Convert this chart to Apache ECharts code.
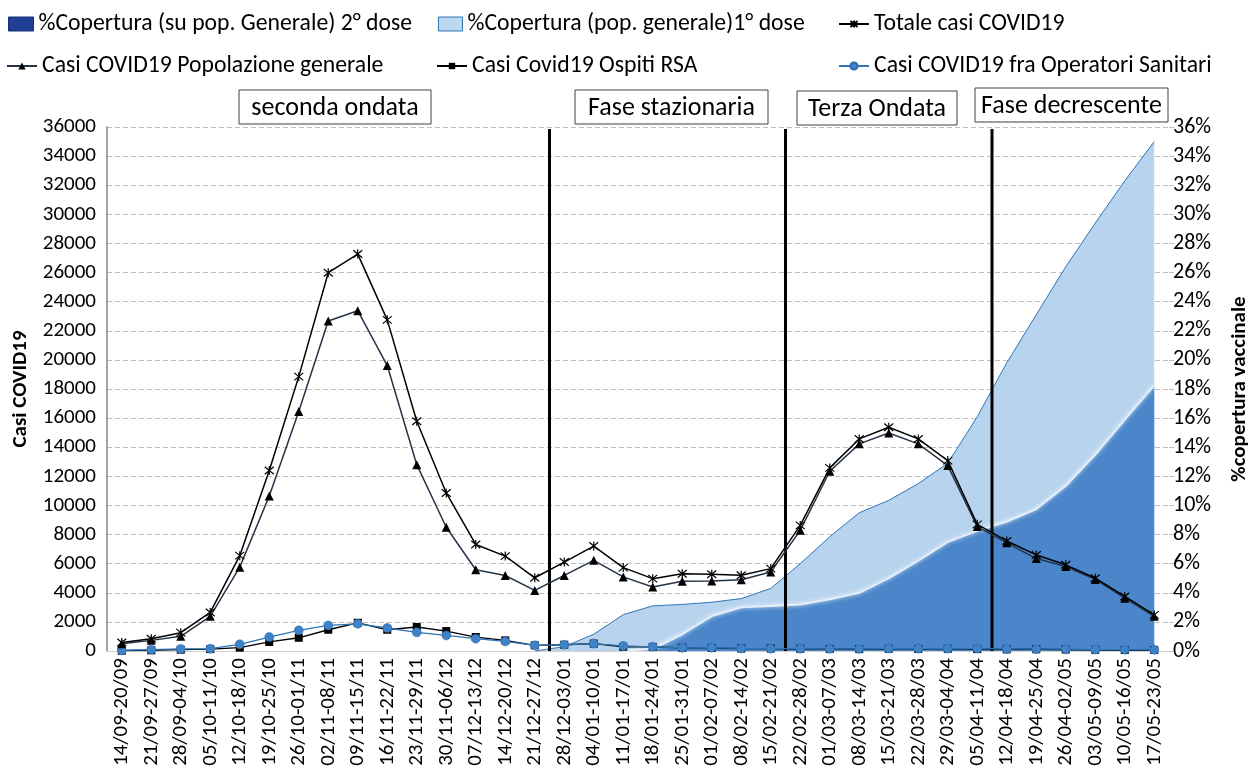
<!DOCTYPE html>
<html>
<head>
<meta charset="utf-8">
<script src="https://cdn.jsdelivr.net/npm/echarts@6.0.0/dist/echarts.min.js"></script>
<style>
  html, body { margin: 0; padding: 0; background: #fff; }
  #chart { width: 1258px; height: 770px; }
</style>
</head>
<body>
<div id="chart"></div>
<script>
// Weekly periods (Sep 2020 - May 2021)
const weeks = ['14/09-20/09','21/09-27/09','28/09-04/10','05/10-11/10','12/10-18/10','19/10-25/10',
  '26/10-01/11','02/11-08/11','09/11-15/11','16/11-22/11','23/11-29/11','30/11-06/12','07/12-13/12',
  '14/12-20/12','21/12-27/12','28/12-03/01','04/01-10/01','11/01-17/01','18/01-24/01','25/01-31/01',
  '01/02-07/02','08/02-14/02','15/02-21/02','22/02-28/02','01/03-07/03','08/03-14/03','15/03-21/03',
  '22/03-28/03','29/03-04/04','05/04-11/04','12/04-18/04','19/04-25/04','26/04-02/05','03/05-09/05',
  '10/05-16/05','17/05-23/05'];

// Weekly COVID19 cases
const totaleCasi = [580, 840, 1260, 2650, 6550, 12400, 18850, 25990, 27270, 22750, 15780, 10860, 7320,
  6520, 5030, 6110, 7210, 5730, 4970, 5310, 5270, 5200, 5660, 8630, 12580, 14570, 15370, 14570, 13080,
  8700, 7560, 6600, 5920, 5000, 3750, 2480];
const popolazioneGenerale = [500, 730, 1010, 2380, 5760, 10650, 16460, 22670, 23380, 19610, 12800, 8500,
  5580, 5190, 4160, 5190, 6230, 5090, 4400, 4790, 4810, 4900, 5430, 8290, 12350, 14230, 14980, 14230,
  12740, 8550, 7430, 6350, 5800, 4920, 3630, 2380];
const ospitiRSA = [20, 50, 90, 130, 230, 620, 910, 1460, 1940, 1460, 1650, 1370, 960, 730, 390, 430, 510,
  290, 280, 220, 210, 170, 170, 150, 140, 130, 150, 140, 150, 130, 110, 120, 100, 80, 70, 70];
const operatoriSanitari = [50, 90, 140, 160, 460, 960, 1420, 1760, 1870, 1580, 1280, 1070, 850, 660, 390,
  430, 510, 350, 290, 220, 230, 180, 160, 160, 150, 150, 170, 160, 170, 170, 140, 130, 130, 100, 90, 80];

// Vaccination coverage (%), general population
const copertura1Dose = [null, null, null, null, null, null, null, null, null, null, null, null, null, null,
  0, 0.3, 1.15, 2.5, 3.1, 3.2, 3.35, 3.6, 4.3, 6.0, 7.85, 9.5, 10.35, 11.5, 12.9, 16.1, 19.8, 23.1, 26.4,
  29.4, 32.3, 35.0];
const copertura2Dose = [null, null, null, null, null, null, null, null, null, null, null, null, null, null,
  null, null, null, 0, 0.15, 1.15, 2.4, 3.0, 3.1, 3.2, 3.55, 4.0, 5.0, 6.2, 7.5, 8.25, 8.9, 9.75, 11.35,
  13.5, 15.9, 18.25];

// Phase boundaries: a separator is drawn after each of these week indices
const phaseBreaks = [14, 22, 29];
const phaseLabels = ['seconda ondata', 'Fase stazionaria', 'Terza Ondata', 'Fase decrescente'];

const leftTicks = { min: 0, max: 36000, interval: 2000 };
const rightTicks = { min: 0, max: 36, interval: 2 };

const FONT = 'Carlito, Lato, "Open Sans", sans-serif';
const chart = echarts.init(document.getElementById('chart'), null, { renderer: 'canvas' });

const N1 = '%Copertura (su pop. Generale) 2° dose';
const N2 = '%Copertura (pop. generale)1° dose';
const N3 = 'Totale casi COVID19';
const N4 = 'Casi COVID19 Popolazione generale';
const N5 = 'Casi Covid19 Ospiti RSA';
const N6 = 'Casi COVID19 fra Operatori Sanitari';

const legendText = { color: '#000', fontSize: 23.7, fontFamily: FONT };
function legendAt(name, left, top, w, h, extra) {
  return Object.assign({
    data: [name], left: left, top: top, itemWidth: w, itemHeight: h, itemGap: 0,
    textStyle: legendText, padding: 0, selectedMode: false
  }, extra || {});
}

// Annotation boxes above the phases
const boxes = [
  { text: phaseLabels[0], x: 239, y: 90, w: 192, h: 34 },
  { text: phaseLabels[1], x: 575, y: 90, w: 193, h: 34 },
  { text: phaseLabels[2], x: 797, y: 91, w: 160, h: 34 },
  { text: phaseLabels[3], x: 975, y: 88, w: 193, h: 34 }
];
const graphics = boxes.map(b => ({
  type: 'group', x: b.x, y: b.y, z: 100,
  children: [
    { type: 'rect', shape: { x: 0, y: 0, width: b.w, height: b.h },
      style: { fill: '#fff', stroke: '#404040', lineWidth: 1 } },
    { type: 'text', x: b.w / 2, y: b.h / 2 + 1,
      style: { text: b.text, fill: '#000', font: '26px ' + FONT, align: 'center', verticalAlign: 'middle' } }
  ]
}));

const option = {
  animation: false,
  backgroundColor: '#fff',
  textStyle: { fontFamily: FONT },
  legend: [
    legendAt(N1, 8, 12, 25, 14, { icon: 'rect',
      data: [{ name: N1, itemStyle: { color: '#1f3f95', borderColor: '#16306f', borderWidth: 1 } }] }),
    legendAt(N2, 438, 12, 24, 14, { icon: 'rect',
      data: [{ name: N2, itemStyle: { color: '#bdd7ee', borderColor: '#2e75b6', borderWidth: 1 } }] }),
    legendAt(N3, 838, 12, 30, 9),
    legendAt(N4, 6, 54, 30, 9),
    legendAt(N5, 436, 54, 30, 8),
    legendAt(N6, 838, 54, 30, 9)
  ],
  grid: { left: 107, right: 79, top: 127, bottom: 119, containLabel: false },
  xAxis: {
    type: 'category',
    data: weeks,
    boundaryGap: true,
    axisLine: { show: true, lineStyle: { color: '#d0d0d0', width: 1 } },
    axisTick: { show: false },
    axisLabel: { rotate: 90, interval: 0, color: '#000', fontSize: 21, fontFamily: FONT, margin: 7 },
    splitLine: { show: false }
  },
  yAxis: [
    {
      type: 'value', min: leftTicks.min, max: leftTicks.max, interval: leftTicks.interval,
      name: 'Casi COVID19', nameLocation: 'middle', nameGap: 76,
      nameTextStyle: { color: '#000', fontSize: 21, fontWeight: 'bold', fontFamily: FONT },
      axisLine: { show: true, lineStyle: { color: '#868686', width: 1.5 } },
      axisTick: { show: false },
      axisLabel: { color: '#000', fontSize: 21, fontFamily: FONT, margin: 11,
        formatter: v => String(v) },
      splitLine: { show: true, lineStyle: { color: '#bfbfbf', type: [5, 3], width: 1 } }
    },
    {
      type: 'value', min: rightTicks.min, max: rightTicks.max, interval: rightTicks.interval,
      name: '%copertura vaccinale', nameLocation: 'middle', nameGap: 60,
      nameTextStyle: { color: '#000', fontSize: 21, fontWeight: 'bold', fontFamily: FONT },
      axisLine: { show: false },
      axisTick: { show: true, length: 5, lineStyle: { color: '#bfbfbf' } },
      axisLabel: { color: '#000', fontSize: 22, fontFamily: FONT, margin: 4, formatter: '{value}%' },
      splitLine: { show: false }
    }
  ],
  graphic: graphics,
  series: [
    {
      name: N2, type: 'line', yAxisIndex: 1, data: copertura1Dose, z: 1,
      symbol: 'none', smooth: false,
      lineStyle: { color: '#2e75b6', width: 1 },
      itemStyle: { color: '#bdd7ee' },
      areaStyle: { color: '#b7d3ee', opacity: 1 }
    },
    {
      name: N1, type: 'line', yAxisIndex: 1, data: copertura2Dose, z: 1,
      symbol: 'none', smooth: false,
      lineStyle: { color: '#e3eefa', width: 2, shadowColor: 'rgba(255,255,255,0.9)', shadowBlur: 4 },
      itemStyle: { color: '#1f3f95' },
      areaStyle: { color: '#4a86c9', opacity: 1 }
    },
    {
      // phase separators, midway between two weeks
      type: 'custom', name: 'fasi', silent: true, z: 3,
      data: phaseBreaks.map(i => [i]),
      encode: { x: 0 },
      renderItem: function (params, api) {
        const i = api.value(0);
        const x = (api.coord([i, 0])[0] + api.coord([i + 1, 0])[0]) / 2;
        const cs = params.coordSys;
        return {
          type: 'line',
          shape: { x1: x, y1: cs.y + 2, x2: x, y2: cs.y + cs.height },
          style: { stroke: '#000', lineWidth: 3 }
        };
      }
    },
    {
      name: N5, type: 'line', data: ospitiRSA, z: 4,
      symbol: 'rect', symbolSize: 8,
      lineStyle: { color: '#000', width: 1.3 },
      itemStyle: { color: '#000' }
    },
    {
      name: N6, type: 'line', data: operatoriSanitari, z: 5,
      symbol: 'circle', symbolSize: 9,
      lineStyle: { color: '#2e75b6', width: 1.3 },
      itemStyle: { color: '#3f82c6', borderColor: '#2a6bb0', borderWidth: 0.5 }
    },
    {
      name: N4, type: 'line', data: popolazioneGenerale, z: 6,
      symbol: 'triangle', symbolSize: 9,
      lineStyle: { color: '#243447', width: 1.5 },
      itemStyle: { color: '#000' }
    },
    {
      name: N3, type: 'line', data: totaleCasi, z: 7,
      symbol: 'path://M0,0L10,10M10,0L0,10M5,-1L5,11', symbolSize: 9,
      lineStyle: { color: '#000', width: 1.5 },
      itemStyle: { color: 'none', borderColor: '#000', borderWidth: 1.2 }
    }
  ]
};

chart.setOption(option);
</script>
</body>
</html>
